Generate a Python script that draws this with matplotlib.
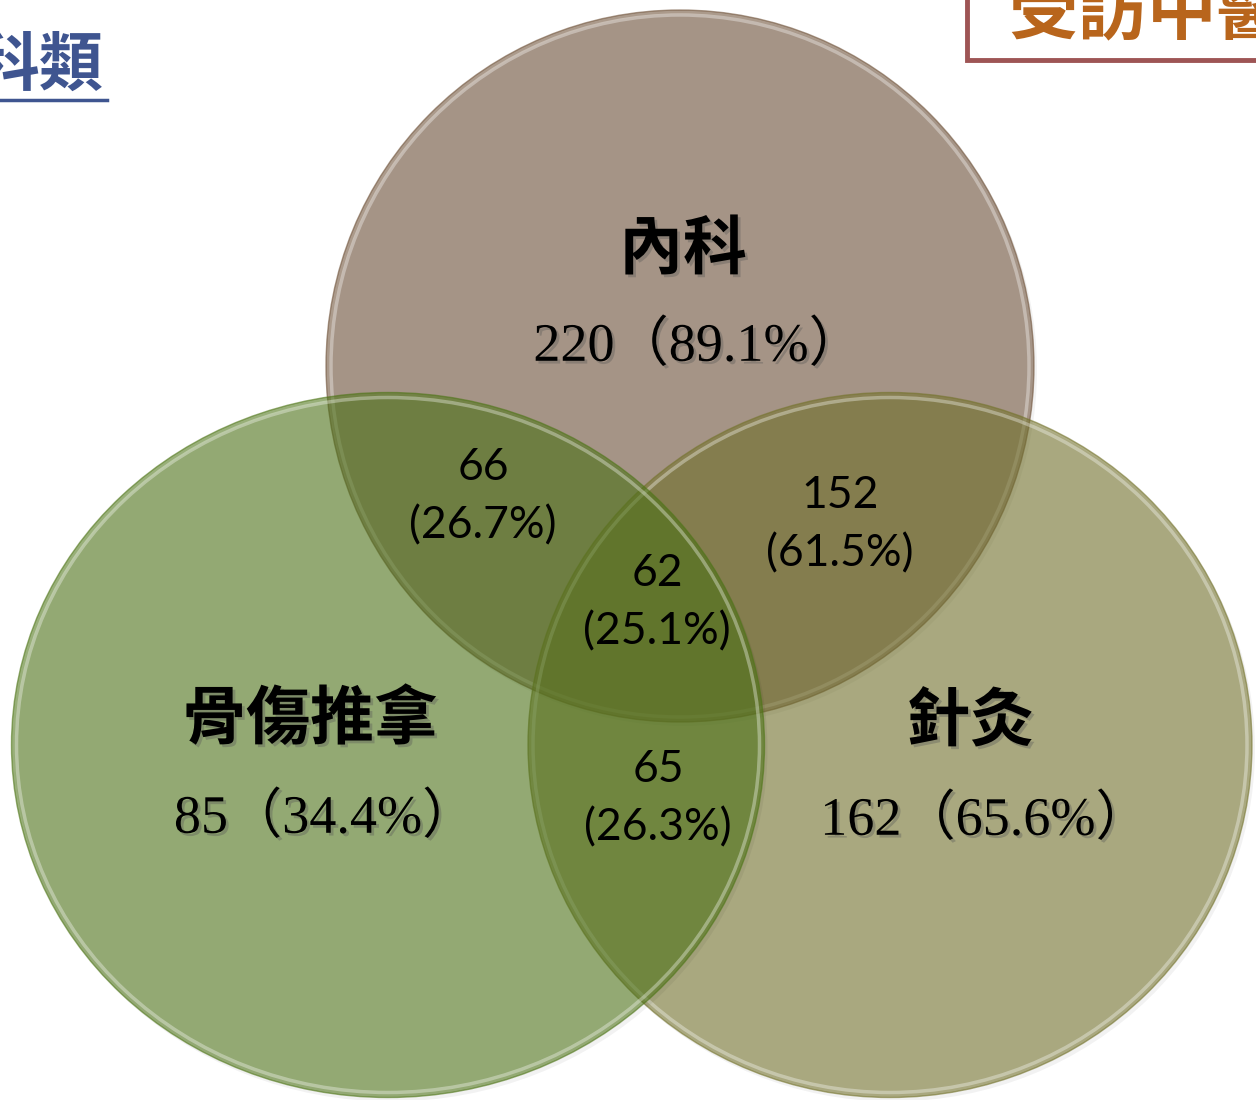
import matplotlib
matplotlib.use('Agg')
import matplotlib.pyplot as plt
from matplotlib.patches import Ellipse, Rectangle
import matplotlib.patheffects as pe

# data
groups = ['內科', '針灸', '骨傷推拿']
group_n = [220, 162, 85]
group_pct = [89.1, 65.6, 34.4]

overlap_names = ['內科+骨傷推拿', '內科+針灸', '三者', '骨傷推拿+針灸']
overlap_n = [66, 152, 62, 65]
overlap_pct = [26.7, 61.5, 25.1, 26.3]

# layout (pixels, y down)
circle_xy = [(680, 366), (890, 745), (388, 745)]
circle_wh = [(708, 712), (724, 705), (753, 705)]
circle_col = ['#6E5138', '#74732C', '#4E7517']
name_xy = [(683, 250), (970, 722), (310, 720)]
num_xy = [(698, 347), (985, 821), (325, 819)]
ov_xy = [(483, 497), (840, 525), (657, 603), (658, 799)]

fig = plt.figure(figsize=(12.56, 11), dpi=100)
ax = fig.add_axes([0, 0, 1, 1])
ax.set_xlim(0, 1256)
ax.set_ylim(1100, 0)
ax.axis('off')

shadow = [pe.SimplePatchShadow(offset=(2, -2), shadow_rgbFace='#555555', alpha=0.35), pe.Normal()]

for (cx, cy), (w, h), c in zip(circle_xy, circle_wh, circle_col):
    ax.add_patch(Ellipse((cx + 3, cy + 4), w, h, facecolor='#000000', alpha=0.05, lw=0))
    ax.add_patch(Ellipse((cx, cy), w, h, facecolor=c, alpha=0.58, lw=1, edgecolor=c))
    ax.add_patch(Ellipse((cx, cy), w - 10, h - 10, fill=False, edgecolor='white', alpha=0.35, lw=2.5))

for name, n, p, (nx, ny), (vx, vy) in zip(groups, group_n, group_pct, name_xy, num_xy):
    ax.text(nx, ny, name, ha='center', va='center', fontsize=46, fontweight='bold',
            family='Noto Sans CJK TC', color='black', path_effects=shadow)
    ax.text(vx, vy, f'{n}（{p:.1f}%）', ha='center', va='center', fontsize=39,
            family=['Liberation Serif', 'Noto Sans CJK TC'], color='black', path_effects=shadow)

for n, p, (x, y) in zip(overlap_n, overlap_pct, ov_xy):
    ax.text(x, y - 29, str(n), ha='center', va='center', fontsize=32, family='Lato', color='black')
    ax.text(x, y + 29, f'({p:.1f}%)', ha='center', va='center', fontsize=32, family='Lato', color='black')

# slide title fragment, top left
ax.text(103, 66, '科類', ha='right', va='center', fontsize=46, fontweight='bold',
        family='Noto Sans CJK TC', color='#3F5590')
ax.plot([0, 107], [100, 100], color='#3F5590', lw=2.5)

# boxed label, top right
ax.add_patch(Rectangle((967, -20), 320, 80, fill=False, edgecolor='#9E5555', lw=3.5))
ax.text(1008, 14, '受訪中醫師', ha='left', va='center', fontsize=50, fontweight='bold',
        family='Noto Sans CJK TC', color='#B8651C')

fig.savefig('out.png', dpi=100)
